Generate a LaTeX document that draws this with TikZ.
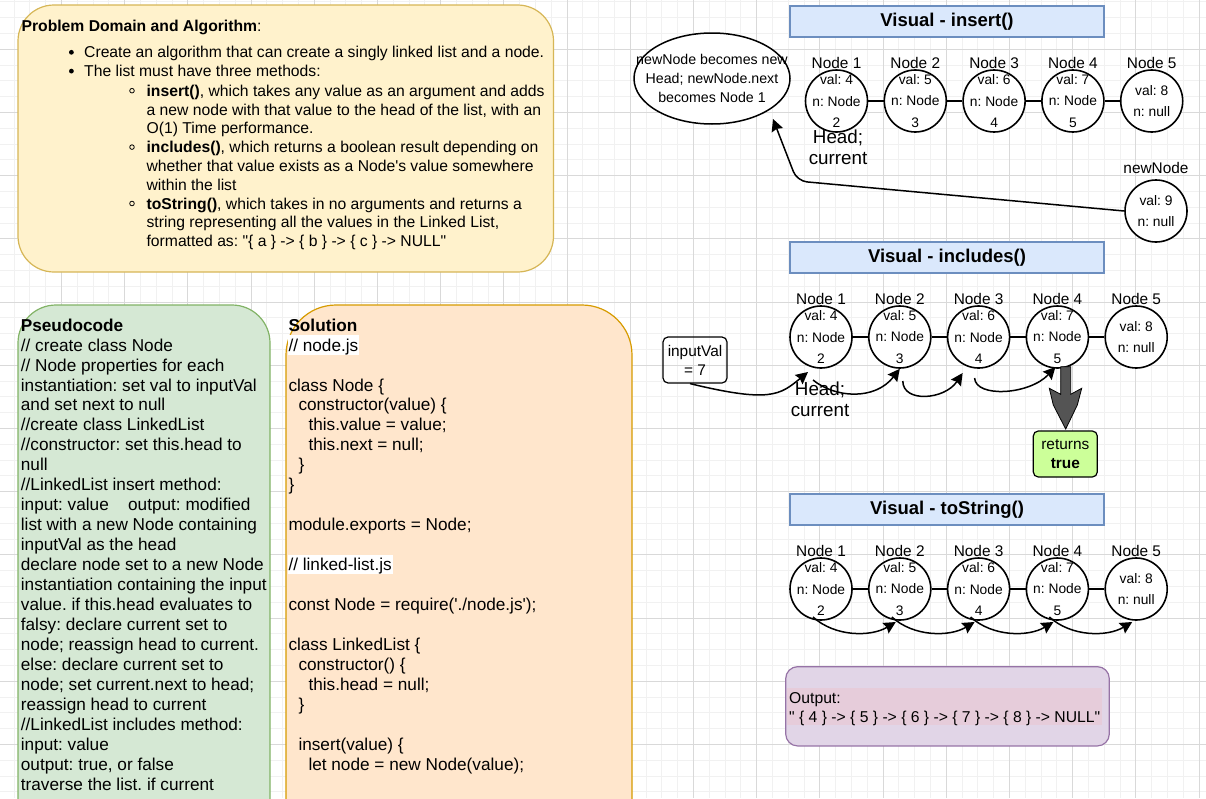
\documentclass[tikz,border=0pt]{standalone}
\usepackage{fontspec}
\setmainfont{Liberation Sans}[Ligatures=TeXOff]
\usetikzlibrary{arrows.meta,positioning,calc,shapes.geometric}
\definecolor{gridmin}{HTML}{F1F1F1}
\definecolor{gridmaj}{HTML}{D9D9D9}
\definecolor{pdfill}{HTML}{FFF2CC}
\definecolor{pdline}{HTML}{D6B656}
\definecolor{psfill}{HTML}{D5E8D4}
\definecolor{psline}{HTML}{82B366}
\definecolor{solfill}{HTML}{FFE6CC}
\definecolor{solline}{HTML}{D79B00}
\definecolor{vfill}{HTML}{DAE8FC}
\definecolor{vline}{HTML}{6C8EBF}
\definecolor{outfill}{HTML}{E1D5E7}
\definecolor{outline}{HTML}{9673A6}
\definecolor{outmark}{HTML}{E6CCDA}
\definecolor{truefill}{HTML}{CCFF99}
\definecolor{bigarrow}{HTML}{545454}
\tikzset{
  >={Stealth[length=12pt,width=12pt,inset=1.5pt]},
  gridmin/.style={draw=gridmin,line width=0.8pt},
  gridmaj/.style={draw=gridmaj,line width=0.8pt},
  panel/.style={draw=#1line,fill=#1fill,line width=1.2pt},
  vtitle/.style={draw=vline,fill=vfill,line width=1.2pt,minimum width=314pt,minimum height=31pt,
    inner sep=0pt,font=\fontsize{18.5}{22}\selectfont\bfseries},
  lnode/.style={circle,draw,line width=1.6pt,fill=white,minimum size=62pt,inner sep=0pt},
  ltext/.style={align=center,inner sep=0pt,font=\fontsize{13.8}{21.5}\selectfont},
  nlabel/.style={inner sep=0pt,font=\fontsize{15.4}{18}\selectfont},
  hlabel/.style={align=center,inner sep=0pt,font=\fontsize{18.8}{21.5}\selectfont},
  link/.style={line width=1.6pt},
  arr/.style={->,line width=1.5pt},
  ptext/.style={anchor=west,inner sep=0pt,text height=11.2pt,text depth=0pt,font=\fontsize{15.7}{18.8}\selectfont},
  ctext/.style={anchor=west,inner sep=0pt,text height=12.3pt,text depth=0pt,font=\fontsize{17.2}{20}\selectfont},
  cmark/.style={anchor=west,fill=white,inner xsep=1pt,inner ysep=0pt,text height=16pt,text depth=3.7pt,
    font=\fontsize{17.2}{20}\selectfont},
  smallbox/.style={draw,line width=1.2pt,rounded corners=5pt,minimum width=64pt,minimum height=46pt,
    inner sep=1pt,align=center,font=\fontsize{15.4}{19}\selectfont},
  obox/.style={draw=outline,fill=outfill,line width=1.2pt,rounded corners=12pt,minimum width=323.6pt,
    minimum height=79.3pt},
}
\begin{document}
\frenchspacing
\begin{tikzpicture}[x=1pt,y=-1pt]
\useasboundingbox (0,0) rectangle (1206,798);
\clip (0,0) rectangle (1206,798);
\fill[white] (0,0) rectangle (1206,798);
% background grid
\foreach \i in {0,...,77} \draw[gridmin] ({-1.9+15.8*\i},0) -- ++(0,798);
\foreach \i in {0,...,51} \draw[gridmin] (0,{-14.1+15.8*\i}) -- ++(1206,0);
\foreach \i in {0,...,19} \draw[gridmaj] ({-1.9+63.2*\i},0) -- ++(0,798);
\foreach \i in {0,...,13} \draw[gridmaj] (0,{-14.1+63.2*\i}) -- ++(1206,0);

% problem domain
\draw[panel=pd,rounded corners=36pt] (18,5) rectangle (553.5,272);
\node[ptext] (pdtitle) at (21.4,26) {\textbf{Problem Domain and Algorithm}:};
\foreach \t [count=\i] in {{Create an algorithm that can create a singly linked list and a node.},
    {The list must have three methods:}}{
  \fill (71.4,{52.3+18.8*(\i-1)}) circle (2.4pt);
  \node[ptext] (pdb\i) at (84,{52.3+18.8*(\i-1)}) {\t};
}
\foreach \t [count=\i] in {{\textbf{insert()}, which takes any value as an argument and adds},
    {a new node with that value to the head of the list, with an},
    {O(1) Time performance.},
    {\textbf{includes()}, which returns a boolean result depending on},
    {whether that value exists as a Node's value somewhere},
    {within the list},
    {\textbf{toString()}, which takes in no arguments and returns a},
    {string representing all the values in the Linked List,},
    {formatted as: "\{ a \} -> \{ b \} -> \{ c \} -> NULL"}}
  \node[ptext] (pds\i) at (146.4,{90.7+18.8*(\i-1)}) {\t};
\foreach \i in {1,4,7} \draw[line width=0.8pt] (132,{90.7+18.8*(\i-1)}) circle (2.3pt);

% pseudocode
\draw[panel=ps,rounded corners=38pt] (18,305) rectangle (270,900);
\foreach \t [count=\i] in {{\textbf{Pseudocode}},{// create class Node},{// Node properties for each},
    {instantiation: set val to inputVal},{and set next to null},{//create class LinkedList},
    {//constructor: set this.head to},{null},{//LinkedList insert method:},
    {input: value\hspace{14.5pt} output: modified},{list with a new Node containing},
    {inputVal as the head},{declare node set to a new Node},{instantiation containing the input},
    {value. if this.head evaluates to},{falsy: declare current set to},
    {node; reassign head to current.},{else: declare current set to},
    {node; set current.next to head;},{reassign head to current},
    {//LinkedList includes method:},{input: value},{output: true, or false},
    {traverse the list. if current}}
  \node[ctext] (ps\i) at (20.7,{325+19.96*(\i-1)}) {\t};

% solution
\draw[panel=sol,rounded corners=50pt] (286,305) rectangle (632,900);
\foreach \l/\t in {1/{\textbf{Solution}},4/{class Node \{},5/{\hspace*{10pt}constructor(value) \{},
    6/{\hspace*{20pt}this.value = value;},7/{\hspace*{20pt}this.next = null;},8/{\hspace*{10pt}\}},
    9/{\}},11/{module.exports = Node;},15/{const Node = require('./node.js');},
    17/{class LinkedList \{},18/{\hspace*{10pt}constructor() \{},19/{\hspace*{20pt}this.head = null;},
    20/{\hspace*{10pt}\}},22/{\hspace*{10pt}insert(value) \{},23/{\hspace*{20pt}let node = new Node(value);}}
  \node[ctext] (sol\l) at (288.3,{325+19.96*(\l-1)}) {\t};
\node[cmark] (sol2) at (287.3,{325+19.96}) {// node.js};
\node[cmark] (sol13) at (287.3,{325+19.96*12}) {// linked-list.js};

% titles
\node[vtitle] (tins) at (947,21.5) {Visual - insert()};
\node[vtitle] (tinc) at (947,257.5) {Visual - includes()};
\node[vtitle] (tstr) at (947,509.5) {Visual - toString()};

% the three lists
\foreach \row/\x/\y in {ins/836.5/101,inc/821/337,str/821/589}{
  \foreach \v [count=\i] in {4,5,6,7}{
    \pgfmathtruncatemacro\nxt{\i+1}
    \node[lnode] (\row\i) at ({\x+78.8*(\i-1)},\y) {};
    \node[ltext] (\row txt\i) at (\row\i) {val: \v\\n: Node\\\nxt};
  }
  \node[lnode] (\row5) at ({\x+78.8*4},\y) {};
  \node[ltext] (\row txt5) at (\row5) {val: 8\\n: null};
  \foreach \i in {1,...,5} \node[nlabel] (\row lab\i) at ($(\row\i)+(0,-38.5)$) {Node \i};
  \foreach \i/\j in {1/2,2/3,3/4,4/5} \draw[link] (\row\i) -- (\row\j);
}

% insert()
\node[draw,ellipse,line width=1.5pt,fill=white,minimum width=156pt,minimum height=91pt,inner sep=0pt] (ell) at (712,78.5) {};
\node[align=center,inner sep=0pt,font=\fontsize{14.2}{19}\selectfont] (elltxt) at (ell.center) {newNode becomes new\\Head; newNode.next\\becomes Node 1};
\node[hlabel] (inshead) at (838,147.5) {Head;\\current};
\node[lnode] (nn) at (1156,211) {};
\node[ltext] (nntxt) at (nn) {val: 9\\n: null};
\node[nlabel] (nnlab) at (1156,168) {newNode};
\coordinate (instip) at (773,119);
\draw[arr,rounded corners=10pt] (nn.west) -- (797,181) -- (instip);

% includes()
\node[smallbox] (ival) at (695,360) {inputVal\\= 7};
\node[hlabel] (inchead) at (820,399.5) {Head;\\current};
\draw[arr] ([xshift=-5pt]ival.south) .. controls (770,403) and (780,395) .. ($(inc1)+(-13,35)$);
\draw[arr] ($(inc1)+(-8,43)$) .. controls +(22,18) and +(-25,32) .. (inc2.south);
\draw[arr] ($(inc2)+(3,44)$) .. controls +(0,22) and +(-18,27) .. ($(inc3)+(-16,36)$);
\draw[arr] ($(inc3)+(-4,41)$) .. controls +(1,20) and +(-26,28) .. ($(inc4)+(-2,30)$);
\filldraw[fill=bigarrow,draw=black,line width=0.8pt] (1060.7,366.7) -- (1070.7,366.7) -- (1070.7,394.3)
  -- (1081.7,388.3) -- (1077.3,405) -- (1065.7,429) -- (1053.3,405) -- (1049.3,388.3) -- (1060.7,394.3) -- cycle;
\node[smallbox,fill=truefill] (ret) at (1065.3,454) {returns\\\textbf{true}};

% toString()
\foreach \i/\j in {1/2,2/3,3/4,4/5}
  \draw[arr] ($(str\i)+(-8,28)$) .. controls +(22,20) and +(-25,15) .. ($(str\j)+(-4,33)$);
\node[obox] (outbox) at (947.5,706.3) {};
\fill[outmark] (787.3,687.7) rectangle (1101.7,725);
\node[ptext] (out1) at (789,698.3) {Output:};
\node[ptext] (out2) at (789,716.7) {" \{ 4 \} -> \{ 5 \} -> \{ 6 \} -> \{ 7 \} -> \{ 8 \} -> NULL"};
\end{tikzpicture}
\end{document}
